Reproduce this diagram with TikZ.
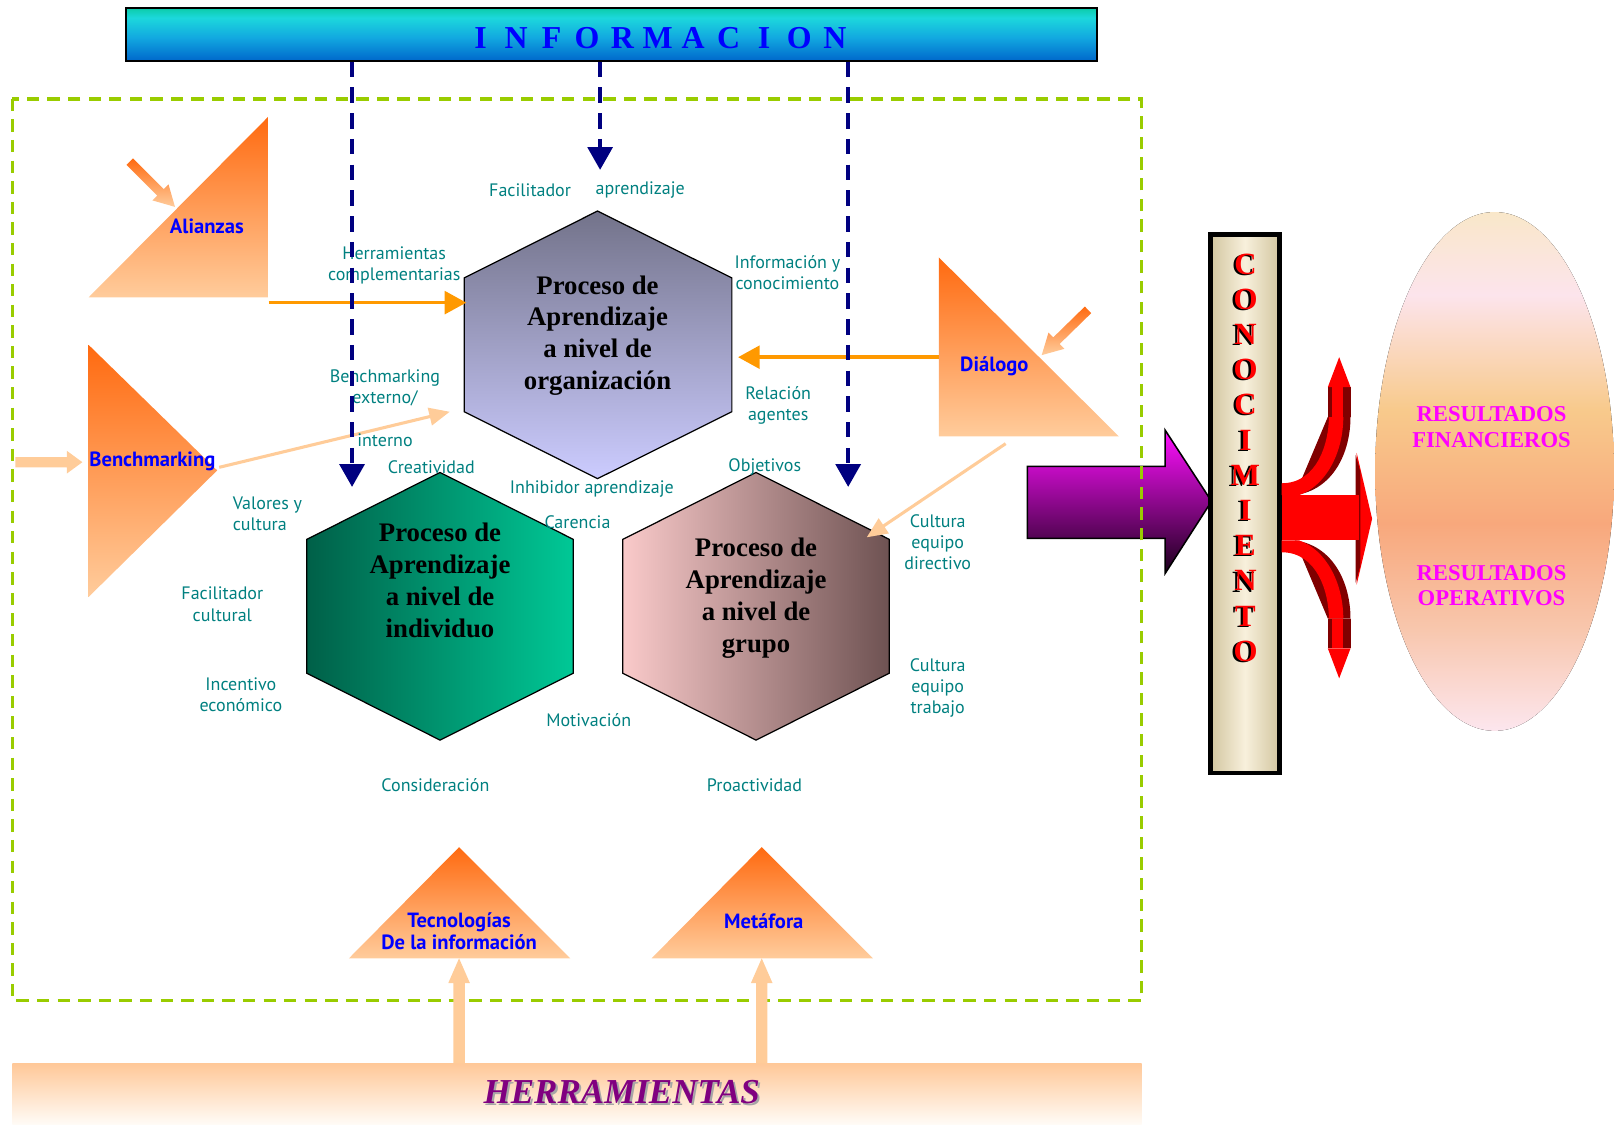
\documentclass[tikz,border=0pt]{standalone}
\usepackage{fontspec}
\setmainfont{Liberation Serif}
\newfontfamily\lab{PT Sans}
\usetikzlibrary{arrows.meta}
\definecolor{tealc}{HTML}{008080}
\definecolor{navyc}{HTML}{000080}
\definecolor{ygreen}{HTML}{99CC00}
\definecolor{orangec}{HTML}{FF9900}
\definecolor{peachc}{HTML}{FFCC99}
\definecolor{tridark}{HTML}{FF6A10}
\definecolor{trilight}{HTML}{FFCC9C}
\definecolor{magc}{HTML}{FF00FF}
\definecolor{purpc}{HTML}{800080}
\definecolor{darkred}{HTML}{800000}
\definecolor{it}{HTML}{0CCCAA}
\definecolor{ic}{HTML}{1CD8DC}
\definecolor{im}{HTML}{12A8E0}
\definecolor{ib}{HTML}{0068CC}
\definecolor{ea}{HTML}{F9E7C9}
\definecolor{eb}{HTML}{FCE4EC}
\definecolor{ec}{HTML}{F8CA8C}
\definecolor{ed}{HTML}{F8A87C}
\definecolor{ee}{HTML}{F8C6AC}
\definecolor{ef}{HTML}{FCE6EE}
\pgfdeclareverticalshading{infoshade}{100bp}{color(0bp)=(ib); color(25bp)=(ib); color(47bp)=(im); color(66bp)=(ic); color(75bp)=(it); color(100bp)=(it)}
\pgfdeclareverticalshading{ellshade}{100bp}{color(0bp)=(ef); color(25bp)=(ef); color(35bp)=(ee); color(45bp)=(ed); color(56bp)=(ec); color(67bp)=(eb); color(75bp)=(ea); color(100bp)=(ea)}
\newcommand\myshad[1]{\rlap{\hspace*{-2.2pt}\raisebox{-1pt}{\textcolor{black}{#1}}}\textcolor{red}{#1}}
\newcommand\myhershad[1]{\rlap{\hspace*{2pt}\raisebox{-2pt}{\textcolor{black!35}{#1}}}\textcolor{purpc}{#1}}
\tikzset{
 lbl/.style={font=\lab\fontsize{17.5}{20.5}\selectfont, text=tealc, inner sep=0pt, align=center},
 blab/.style={font=\lab\bfseries\fontsize{20}{21.5}\selectfont, text=blue, inner sep=0pt, align=center},
 hext/.style={font=\bfseries\fontsize{26}{31}\selectfont, align=center, inner sep=0pt},
 navyline/.style={draw=navyc, line width=3.5pt, dash pattern=on 15pt off 10pt, -{Triangle[length=22pt,width=24pt]}},
 orline/.style={draw=orangec, line width=3.5pt, -{Triangle[length=21pt,width=22pt]}},
 pline/.style={draw=peachc, line width=3pt, -{Triangle[length=20pt,width=17pt]}},
 tri/.style={top color=tridark, bottom color=trilight},
 conl/.style={font=\bfseries\fontsize{30}{30}\selectfont, inner sep=0pt},
 res/.style={font=\bfseries\fontsize{22}{25}\selectfont, text=magc, align=center, inner sep=0pt},
 infl/.style={font=\bfseries\fontsize{31}{31}\selectfont, text=blue, inner sep=0pt},
}
\begin{document}
\begin{tikzpicture}[x=1pt,y=-1pt]
\useasboundingbox (0,0) rectangle (1568,1092);

% results ellipse
\fill[shading=ellshade] (1452,458) ellipse [x radius=116, y radius=252];
\node[res] (rf) at (1449,415) {RESULTADOS\\FINANCIEROS};
\node[res] (ro) at (1449,569) {RESULTADOS\\OPERATIVOS};

% INFORMACION bar
\shade[shading=infoshade] (122,8) rectangle (1066,59);
\draw[line width=2pt] (122,8) rectangle (1066,59);
\foreach \ch [count=\i from 0] in {I,N,F,O,R,M,A,C,I,O,N}
  \node[infl] (inf\i) at (467+34.4*\i,37) {\ch};

% triangles
\shade[tri] (261,113) -- (261,289) -- (86,289) -- cycle;
\shade[tri] (86,335) -- (211,457) -- (86,580) -- cycle;
\shade[tri] (912,250) -- (1087,424) -- (912,424) -- cycle;
\shade[tri] (446,823) -- (554,931) -- (339,931) -- cycle;
\shade[tri] (740,823) -- (848,931) -- (633,931) -- cycle;
% small gradient arrows
\shade[tri] (129.2,153.8) -- (159.1,183.7) -- (163.7,179.1) -- (170,201) -- (148.1,194.7) -- (152.7,190.1) -- (122.8,160.2) -- cycle;
\shade[tri] (1053.9,297.8) -- (1023.2,327.8) -- (1018.6,323.1) -- (1012,345) -- (1034.0,338.9) -- (1029.4,334.2) -- (1060.1,304.2) -- cycle;
% benchmarking input arrow
\fill[peachc] (15,444) -- (65,444) -- (65,438) -- (80,449) -- (65,460) -- (65,454) -- (15,454) -- cycle;

\node[blab] (ali) at (201,220) {Alianzas};
\node[blab] (ben) at (148,448) {Benchmarking};
\node[blab] (dia) at (966,356) {Diálogo};
\node[blab] (tec) at (446,905) {Tecnologías\\De la información};
\node[blab] (met) at (742,895) {Metáfora};

% hexagons
\shade[top color=black!10!blue!10!gray, bottom color={rgb,255:red,204;green,204;blue,255}]
  (580.5,205) -- (711,270) -- (711,400) -- (580.5,465) -- (451,400) -- (451,270) -- cycle;
\draw[line width=1.2pt] (580.5,205) -- (711,270) -- (711,400) -- (580.5,465) -- (451,400) -- (451,270) -- cycle;
\shade[left color={rgb,255:red,0;green,96;blue,72}, right color={rgb,255:red,0;green,200;blue,150}]
  (427.5,459) -- (557,524) -- (557,654) -- (427.5,719) -- (298,654) -- (298,524) -- cycle;
\draw[line width=1.2pt] (427.5,459) -- (557,524) -- (557,654) -- (427.5,719) -- (298,654) -- (298,524) -- cycle;
\shade[left color={rgb,255:red,250;green,202;blue,202}, right color={rgb,255:red,110;green,82;blue,82}]
  (734.5,459) -- (864,524) -- (864,654) -- (734.5,719) -- (605,654) -- (605,524) -- cycle;
\draw[line width=1.2pt] (734.5,459) -- (864,524) -- (864,654) -- (734.5,719) -- (605,654) -- (605,524) -- cycle;

\node[hext] (horg) at (580.5,326) {Proceso de\\Aprendizaje\\a nivel de\\organización};
\node[hext] (hind) at (427.5,564) {Proceso de\\Aprendizaje\\a nivel de\\individuo};
\node[hext] (hgrp) at (734.5,581) {Proceso de\\Aprendizaje\\a nivel de\\grupo};

% connectors
\coordinate (aliR) at (261,294);
\coordinate (orgL) at (453,294);
\coordinate (diaL) at (912,347);
\coordinate (orgR) at (717,347);
\coordinate (benT) at (213,454);
\coordinate (orgLB) at (437,400);
\coordinate (diaB) at (977,431);
\coordinate (grpR) at (842,522);
\draw[orline] (aliR) -- (orgL);
\draw[orline] (diaL) -- (orgR);
\draw[pline] (benT) -- (orgLB);
\draw[pline] (diaB) -- (grpR);

% teal labels
\node[lbl] (l1) at (515,185) {Facilitador};
\node[lbl] (l2) at (622,185) {aprendizaje};
\node[lbl] (l3) at (383,258) {Herramientas\\complementarias};
\node[lbl] (l4) at (765,265) {Información y\\conocimiento};
\node[lbl] (l5) at (374,377) {Benchmarking\\externo/};
\node[lbl] (l6) at (374,428) {interno};
\node[lbl] (l7) at (756,394) {Relación\\agentes};
\node[lbl] (l8) at (419,454) {Creatividad};
\node[lbl] (l9) at (575,475) {Inhibidor aprendizaje};
\node[lbl] (l10) at (743,454) {Objetivos};
\node[lbl, align=left, anchor=west] (l11) at (226,499) {Valores y\\cultura};
\node[lbl] (l12) at (561,507) {Carencia};
\node[lbl] (l13) at (911,527) {Cultura\\equipo\\directivo};
\node[lbl] (l14) at (216,587) {Facilitador\\cultural};
\node[lbl] (l15) at (234,675) {Incentivo\\económico};
\node[lbl] (l16) at (572,700) {Motivación};
\node[lbl] (l17) at (911,668) {Cultura\\equipo\\trabajo};
\node[lbl] (l18) at (423,763) {Consideración};
\node[lbl] (l19) at (733,763) {Proactividad};

% purple arrow
\shade[top color={rgb,255:red,255;green,16;blue,255}, middle color={rgb,255:red,160;green,0;blue,160}, bottom color={rgb,255:red,26;green,0;blue,26}]
  (998,453) -- (1132,453) -- (1132,418) -- (1177,487) -- (1132,557) -- (1132,523) -- (998,523) -- cycle;
\draw[line width=1.5pt] (998,453) -- (1132,453) -- (1132,418) -- (1177,487) -- (1132,557) -- (1132,523) -- (998,523) -- cycle;

% green dashed frame
\draw[ygreen, line width=3.5pt, dash pattern=on 12pt off 8pt] (12,96) rectangle (1109,972);

% navy dashed lines
\coordinate (n1s) at (342,60); \coordinate (n1e) at (342,473);
\coordinate (n2s) at (583,60); \coordinate (n2e) at (583,165);
\coordinate (n3s) at (824,60); \coordinate (n3e) at (824,473);
\draw[navyline] (n1s) -- (n1e);
\draw[navyline] (n2s) -- (n2e);
\draw[navyline] (n3s) -- (n3e);

% CONOCIMIENTO bar
\shade[left color={rgb,255:red,210;green,198;blue,160}, right color={rgb,255:red,210;green,198;blue,160}, middle color={rgb,255:red,248;green,240;blue,220}] (1176,228) rectangle (1243,751);
\draw[line width=4.5pt] (1176,228) rectangle (1243,751);
\foreach \ch [count=\i from 0] in {C,O,N,O,C,I,M,I,E,N,T,O}
  \node[conl] (con\i) at (1210,257+34.2*\i) {\myshad{\ch}};

% red arrows
\fill[red] (1318,440) -- (1333,504) -- (1318,568) -- cycle;
\fill[darkred] (1317,442) -- (1321.5,458) -- (1321.5,550) -- (1317,566) -- cycle;
\fill[darkred] (1258,481) .. controls (1295,476) and (1312,440) .. (1312,405) -- (1290,405) -- cycle;
\fill[darkred] (1258,525) .. controls (1295,530) and (1312,566) .. (1312,601) -- (1290,601) -- cycle;
\fill[red] (1245,469.5) .. controls (1280,469.5) and (1291,430) .. (1291,405) -- (1305,405) .. controls (1305,440) and (1288,472) .. (1262,481) -- (1245,481) -- cycle;
\fill[red] (1245,536.5) .. controls (1280,536.5) and (1291,576) .. (1291,601) -- (1305,601) .. controls (1305,566) and (1288,534) .. (1262,525) -- (1245,525) -- cycle;
\fill[darkred] (1290,376) rectangle (1312,405);
\fill[darkred] (1290,601) rectangle (1312,630);
\fill[red] (1294,376) rectangle (1305,405);
\fill[red] (1294,601) rectangle (1305,630);
\fill[red] (1290,376) -- (1312,376) -- (1301,347) -- cycle;
\fill[red] (1290,630) -- (1312,630) -- (1301,659) -- cycle;
\fill[red] (1245,481) rectangle (1320,525);

% HERRAMIENTAS bar
\shade[top color={rgb,255:red,255;green,200;blue,152}, bottom color={rgb,255:red,255;green,251;blue,246}] (12,1033) rectangle (1109,1092);
\node[font=\bfseries\itshape\fontsize{34}{34}\selectfont, inner sep=0pt] (her) at (604,1062) {\myhershad{HERRAMIENTAS}};

% bottom peach arrows
\coordinate (t1) at (446,931); \coordinate (t2) at (740,931);
\fill[peachc] (440.5,1033) -- (440.5,955) -- (435.5,955) -- (t1) -- (456.5,955) -- (451.5,955) -- (451.5,1033) -- cycle;
\fill[peachc] (734.5,1033) -- (734.5,955) -- (729.5,955) -- (t2) -- (750.5,955) -- (745.5,955) -- (745.5,1033) -- cycle;
\end{tikzpicture}
\end{document}
